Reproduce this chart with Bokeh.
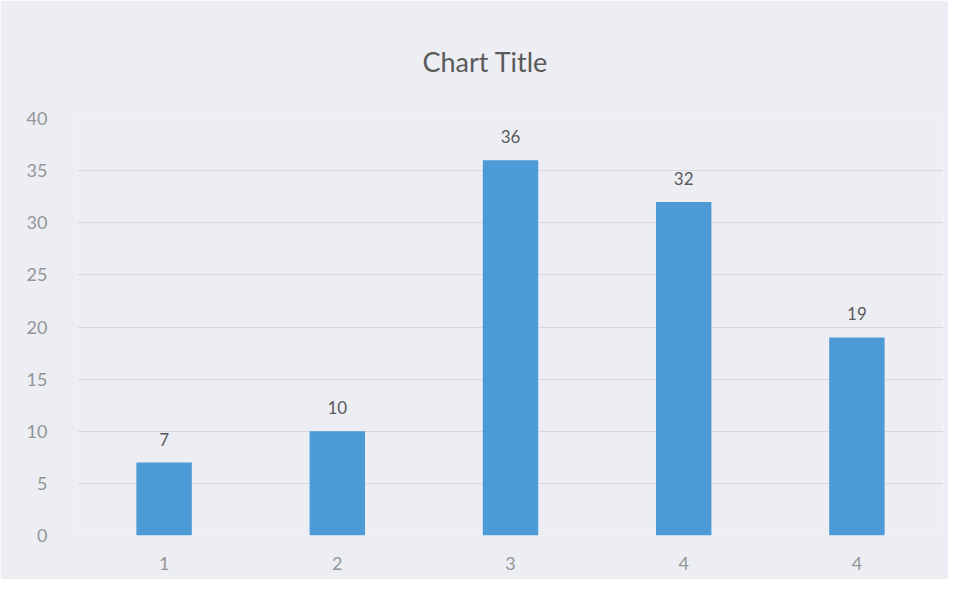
from bokeh.plotting import figure
from bokeh.models import ColumnDataSource, FixedTicker, Range1d, LabelSet
from bokeh.core.properties import value
from bokeh.embed import file_html
from bokeh.resources import INLINE

categories = ["1", "2", "3", "4", "4"]
values = [7, 10, 36, 32, 19]
y_ticks = [0, 5, 10, 15, 20, 25, 30, 35, 40]

positions = list(range(1, len(categories) + 1))
source = ColumnDataSource(dict(x=positions, top=values, label=[str(v) for v in values]))

FONT = "Lato"
BG = "#eceef4"

p = figure(width=948, height=579, output_backend="svg", toolbar_location=None,
           x_range=Range1d(0.5, len(categories) + 0.5), y_range=Range1d(0, 40),
           min_border_left=77, min_border_right=5, min_border_top=118, min_border_bottom=44)
p.background_fill_color = BG
p.border_fill_color = BG
p.outline_line_color = None

p.title.text = "Chart Title"
p.title.align = "left"
p.title.text_font = FONT
p.title.text_font_size = "27px"
p.title.text_font_style = "normal"
p.title.text_color = "#5a5a5a"
p.title.offset = 345
p.title.standoff = 82

p.vbar(x="x", top="top", width=0.32, source=source, fill_color="#4d9bd6", line_color=None)

labels = LabelSet(x="x", y="top", text="label", source=source, text_align="center",
                  text_baseline="bottom", y_offset=17, text_font=value(FONT),
                  text_font_size="17px", text_color="#5a5a5a")
p.add_layout(labels)

p.xaxis.ticker = FixedTicker(ticks=positions)
p.xaxis.major_label_overrides = {pos: c for pos, c in zip(positions, categories)}
p.yaxis.ticker = FixedTicker(ticks=y_ticks)

for ax in (p.xaxis, p.yaxis):
    ax.axis_line_color = None
    ax.major_tick_line_color = None
    ax.minor_tick_line_color = None
    ax.major_label_text_font = FONT
    ax.major_label_text_font_size = "18px"
    ax.major_label_text_color = "#959595"
p.xaxis.major_label_standoff = 15
p.yaxis.major_label_standoff = 24

p.xgrid.grid_line_color = None
p.ygrid.grid_line_color = "#d8d9dd"
p.ygrid.grid_line_width = 1

open("out.html", "w").write(file_html(p, INLINE))
